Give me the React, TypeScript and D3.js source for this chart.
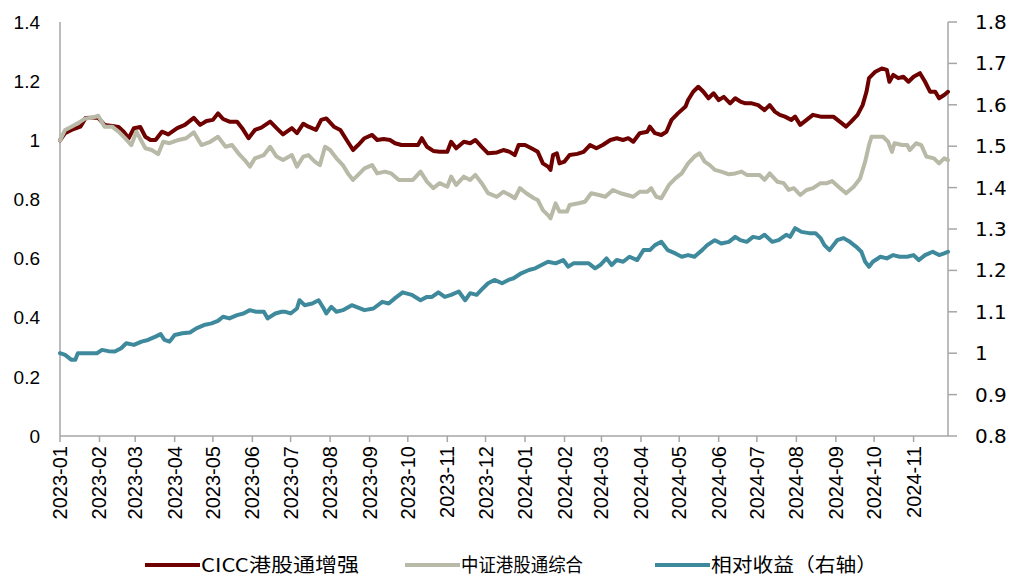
import React from "react";
import * as d3 from "d3";

// ---- data (day offsets from 2023-01-01) ----
const ciccDays = [0,4,9,16,20,25,30,35,41,46,50,54,58,63,67,71,75,80,85,92,98,105,110,115,120,124,128,133,139,143,148,153,158,165,170,175,182,186,191,195,201,205,209,215,220,225,230,234,239,245,249,254,259,263,268,275,281,284,288,293,298,304,307,311,317,322,326,331,336,343,348,353,357,360,365,370,375,379,383,385,387,390,392,396,400,406,411,416,421,426,432,437,442,446,450,455,461,463,467,472,476,480,485,491,493,497,501,505,509,513,517,521,526,530,534,538,543,548,553,557,561,565,569,574,577,581,586,591,597,602,607,612,617,621,626,630,633,635,640,645,649,651,654,658,662,666,670,675,679,683,687,690,694,697];
const ciccValues = [1.0,1.024,1.035,1.046,1.075,1.076,1.076,1.052,1.048,1.045,1.029,1.007,1.041,1.045,1.012,1.001,1.001,1.029,1.02,1.041,1.052,1.076,1.052,1.065,1.069,1.091,1.072,1.063,1.063,1.041,1.007,1.035,1.043,1.063,1.041,1.02,1.041,1.024,1.056,1.046,1.035,1.069,1.074,1.046,1.035,1.001,0.967,0.984,1.007,1.018,1.001,1.004,1.001,0.99,0.984,0.984,0.984,1.007,0.978,0.964,0.961,0.961,0.995,0.973,0.995,0.99,1.001,0.978,0.956,0.959,0.967,0.961,0.95,0.984,0.984,0.973,0.961,0.922,0.911,0.9,0.95,0.956,0.922,0.928,0.95,0.954,0.961,0.984,0.973,0.984,1.001,1.007,1.001,1.007,0.995,1.024,1.029,1.046,1.024,1.018,1.029,1.069,1.091,1.114,1.136,1.164,1.181,1.164,1.142,1.159,1.136,1.147,1.125,1.142,1.131,1.125,1.125,1.119,1.102,1.119,1.097,1.086,1.08,1.069,1.08,1.052,1.069,1.086,1.08,1.08,1.08,1.063,1.046,1.063,1.086,1.119,1.164,1.21,1.232,1.243,1.238,1.198,1.221,1.21,1.215,1.198,1.215,1.227,1.198,1.164,1.164,1.142,1.153,1.164];

const csiDays = [0,4,9,16,20,25,30,35,41,46,51,56,60,67,72,77,81,86,93,99,105,111,118,124,130,135,140,145,149,153,160,165,170,175,182,186,191,195,200,204,208,212,217,222,226,230,234,239,245,249,255,260,266,271,277,283,288,293,298,304,307,311,317,322,326,331,336,343,348,353,357,361,366,372,375,379,383,385,389,392,398,400,407,412,417,423,428,434,440,445,450,455,461,464,468,472,478,483,488,493,498,502,506,510,514,519,525,530,535,539,544,549,553,557,563,568,572,576,581,586,591,597,602,606,611,617,623,628,632,635,637,643,646,650,653,655,661,665,667,672,676,680,686,690,694,697];
const csiValues = [1.0,1.035,1.046,1.063,1.074,1.076,1.083,1.046,1.046,1.029,1.007,0.984,1.029,0.973,0.967,0.953,0.995,0.99,1.001,1.007,1.027,0.984,0.995,1.012,0.978,0.984,0.956,0.933,0.911,0.939,0.95,0.978,0.945,0.933,0.95,0.911,0.945,0.95,0.928,0.916,0.978,0.967,0.939,0.916,0.888,0.866,0.883,0.905,0.916,0.888,0.894,0.888,0.866,0.866,0.866,0.894,0.86,0.838,0.855,0.843,0.877,0.849,0.877,0.866,0.883,0.855,0.821,0.809,0.826,0.815,0.804,0.838,0.821,0.804,0.798,0.764,0.747,0.736,0.787,0.759,0.759,0.781,0.787,0.792,0.821,0.815,0.809,0.832,0.821,0.815,0.809,0.826,0.826,0.838,0.809,0.804,0.849,0.871,0.888,0.922,0.945,0.956,0.928,0.916,0.9,0.894,0.885,0.888,0.894,0.883,0.883,0.883,0.866,0.888,0.86,0.855,0.832,0.838,0.815,0.832,0.838,0.855,0.855,0.862,0.843,0.821,0.843,0.871,0.928,0.984,1.012,1.012,1.012,0.995,0.961,0.99,0.984,0.984,0.967,0.99,0.984,0.945,0.939,0.922,0.939,0.933];

const relDays = [0,4,9,12,14,22,29,33,38,43,48,52,58,64,69,75,79,82,86,90,96,102,107,113,119,124,128,133,139,144,149,154,160,163,169,174,177,181,186,188,192,198,203,207,209,213,217,222,229,234,239,246,253,258,263,269,276,283,288,292,297,302,307,313,318,322,327,332,336,341,347,352,356,362,368,373,378,383,389,395,399,403,410,415,420,424,429,433,437,442,447,453,458,463,467,472,477,483,488,493,498,504,508,514,519,525,530,534,539,544,549,553,559,564,570,573,577,582,588,593,597,600,604,610,615,620,625,629,632,635,638,644,649,654,659,665,670,674,679,685,690,694,697];
const relValues = [1.0,0.996,0.984,0.984,1.0,1.0,1.0,1.008,1.005,1.004,1.012,1.024,1.02,1.028,1.032,1.04,1.046,1.032,1.028,1.044,1.048,1.05,1.06,1.068,1.072,1.078,1.088,1.084,1.092,1.096,1.104,1.1,1.1,1.084,1.096,1.1,1.1,1.096,1.108,1.128,1.116,1.12,1.128,1.108,1.096,1.112,1.1,1.104,1.116,1.11,1.104,1.108,1.124,1.12,1.133,1.147,1.141,1.128,1.136,1.136,1.147,1.136,1.141,1.149,1.128,1.145,1.141,1.157,1.169,1.177,1.169,1.177,1.181,1.193,1.201,1.205,1.213,1.221,1.217,1.225,1.209,1.217,1.217,1.217,1.205,1.213,1.229,1.213,1.225,1.221,1.233,1.225,1.249,1.249,1.261,1.269,1.249,1.241,1.233,1.237,1.233,1.249,1.261,1.273,1.265,1.269,1.281,1.273,1.269,1.281,1.278,1.286,1.269,1.273,1.286,1.281,1.302,1.293,1.29,1.29,1.278,1.261,1.249,1.273,1.278,1.269,1.257,1.245,1.221,1.209,1.221,1.233,1.229,1.237,1.233,1.233,1.237,1.225,1.237,1.245,1.237,1.241,1.245];

const monthTicks = ["2023-01","2023-02","2023-03","2023-04","2023-05","2023-06","2023-07","2023-08","2023-09","2023-10","2023-11","2023-12","2024-01","2024-02","2024-03","2024-04","2024-05","2024-06","2024-07","2024-08","2024-09","2024-10","2024-11"];
const leftTicks = [0,0.2,0.4,0.6,0.8,1,1.2,1.4];
const rightTicks = [0.8,0.9,1,1.1,1.2,1.3,1.4,1.5,1.6,1.7,1.8];
const seriesNames = ["CICC港股通增强","中证港股通综合","相对收益（右轴）"];
const startDate = "2023-01-01";
const endDay = 697;

const COLORS = ["#6E0000", "#B8B9A6", "#3E8A9C"];

export default function App() {
  const W = 1036, H = 584;
  const left = 60, right = 948, top = 22, bottom = 436;
  const parseDay = d3.timeParse("%Y-%m-%d");
  const parseMonth = d3.timeParse("%Y-%m");
  const d0 = parseDay(startDate) as Date;
  const toDate = (d: number) => d3.timeDay.offset(d0, d);

  const x = d3.scaleTime().domain([d0, toDate(endDay)]).range([left, right]);
  const yL = d3.scaleLinear().domain([0, 1.4]).range([bottom, top]);
  const yR = d3.scaleLinear().domain([0.8, 1.8]).range([bottom, top]);

  const mk = (days: number[], vals: number[], y: d3.ScaleLinear<number, number>) =>
    d3.line<number>().x((_, i) => x(toDate(days[i]))).y((v) => y(v))(vals) || "";

  const series = [
    { path: mk(ciccDays, ciccValues, yL), color: COLORS[0] },
    { path: mk(csiDays, csiValues, yL), color: COLORS[1] },
    { path: mk(relDays, relValues, yR), color: COLORS[2] },
  ];

  const axisColor = "#A6A6A6";
  const legendX = [145, 405, 655];
  const legendW = [158, 122, 166];

  return (
    <svg width={W} height={H} style={{ position: "absolute", left: 0, top: 0, background: "#fff" }}>
      {/* axes */}
      <line x1={left} x2={left} y1={top} y2={bottom} stroke={axisColor} strokeWidth={1.5} />
      <line x1={right} x2={right} y1={top} y2={bottom} stroke={axisColor} strokeWidth={1.5} />
      <line x1={left} x2={right} y1={bottom} y2={bottom} stroke={axisColor} strokeWidth={1.5} />
      {rightTicks.map((t) => (
        <g key={"r" + t}>
          <line x1={right} x2={right + 9} y1={yR(t)} y2={yR(t)} stroke={axisColor} strokeWidth={1.5} />
          <text x={975} y={yR(t)} dy="0.35em" fontFamily="DejaVu Sans" fontSize={20} fill="#000">
            {String(+t.toFixed(1))}
          </text>
        </g>
      ))}
      {leftTicks.map((t) => (
        <text key={"l" + t} x={40} y={yL(t)} dy="0.35em" textAnchor="end" fontFamily="Liberation Sans" fontSize={19} fill="#000">
          {String(+t.toFixed(1))}
        </text>
      ))}
      {monthTicks.map((m) => {
        const xx = x(parseMonth(m) as Date);
        return (
          <g key={m}>
            <line x1={xx} x2={xx} y1={bottom} y2={bottom + 6} stroke={axisColor} strokeWidth={1.5} />
            <text transform={`translate(${xx},${446}) rotate(-90)`} dy="0.35em" textAnchor="end" fontFamily="Liberation Sans" fontSize={20} fill="#000">
              {m}
            </text>
          </g>
        );
      })}
      {/* lines */}
      {series.map((s, i) => (
        <path key={i} d={s.path} fill="none" stroke={s.color} strokeWidth={4} strokeLinejoin="round" strokeLinecap="round" />
      ))}
      {/* legend */}
      {seriesNames.map((n, i) => (
        <g key={n}>
          <line x1={legendX[i]} x2={legendX[i] + 55} y1={565} y2={565} stroke={COLORS[i]} strokeWidth={4} />
          <text x={legendX[i] + 56} y={565} dy="0.36em" fontFamily="Noto Sans CJK SC" fontSize={19} fill="#000"
            textLength={legendW[i]} lengthAdjust="spacingAndGlyphs">
            {n}
          </text>
        </g>
      ))}
    </svg>
  );
}
